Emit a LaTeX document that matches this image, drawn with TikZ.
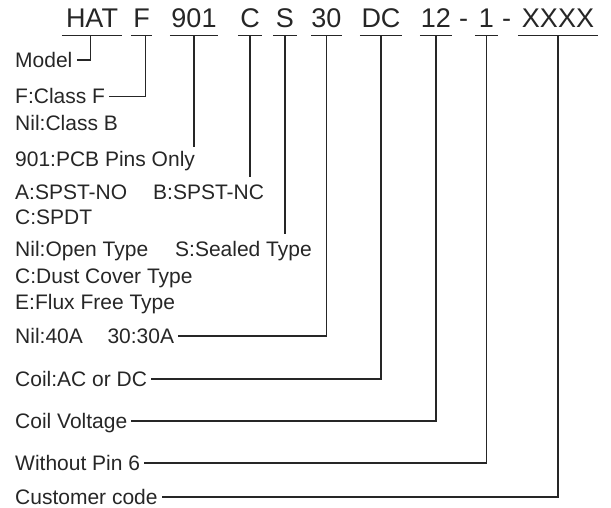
\documentclass[tikz,border=0pt]{standalone}
\usepackage{fontspec}
\setmainfont{Liberation Sans}
\usetikzlibrary{positioning,calc}

\begin{document}
\begin{tikzpicture}[
  x=1pt, y=-1pt,
  font=\fontsize{21}{25}\selectfont,
  code/.style={font=\fontsize{27}{32}\selectfont, text=black!85, anchor=base,
    inner xsep=0pt, inner ysep=8pt, text depth=0pt},
  lab/.style={text=black!85, anchor=base west, inner xsep=4pt, inner ysep=0pt,
    text height=14pt, text depth=0pt},
  lead/.style={draw=black!85, line width=1.2pt}
]
\useasboundingbox (0,0) rectangle (611,507);

% part number
\node[code, minimum width=60pt] (hat) at (92,27) {HAT};
\node[code, minimum width=21pt] (cls) at (141.5,27) {F};
\node[code, minimum width=48pt] (pins) at (194,27) {901};
\node[code, minimum width=24pt] (cont) at (250,27) {C};
\node[code, minimum width=24pt] (seal) at (285,27) {S};
\node[code, minimum width=27pt] (amp) at (326.5,27) {30};
\node[code, minimum width=42pt] (coil) at (381,27) {DC};
\node[code, minimum width=32pt] (volt) at (436,27) {12};
\node[code] (dasha) at (463.5,27) {-};
\node[code, minimum width=23pt] (pin6) at (486.5,27) {1};
\node[code] (dashb) at (506.5,27) {-};
\node[code, minimum width=80pt] (cust) at (558,27) {XXXX};

% underlines
\foreach \n in {hat,cls,pins,cont,seal,amp,coil,volt,pin6,cust}
  \draw[lead] (\n.south west) -- (\n.south east);

% meanings
\node[lab] (model) at (11,67) {Model};
\node[lab] (clsf) at (11,103.5) {F:Class F};
\node[lab] (clsb) at (11,130.5) {Nil:Class B};
\node[lab] (pcb) at (11,166) {901:PCB Pins Only};
\node[lab] (spno) at (11,199) {A:SPST-NO};
\node[lab] (spnc) at (149,199) {B:SPST-NC};
\node[lab] (spdt) at (11,224.5) {C:SPDT};
\node[lab] (open) at (11,256.5) {Nil:Open Type};
\node[lab] (sealed) at (171,256.5) {S:Sealed Type};
\node[lab] (dust) at (11,283) {C:Dust Cover Type};
\node[lab] (flux) at (11,309.5) {E:Flux Free Type};
\node[lab] (a40) at (11,343) {Nil:40A};
\node[lab] (a30) at (103.3,343) {30:30A};
\node[lab] (acdc) at (11,386) {Coil:AC or DC};
\node[lab] (coilv) at (11,428) {Coil Voltage};
\node[lab] (nopin) at (11,470) {Without Pin 6};
\node[lab] (custc) at (11,504) {Customer code};

% leaders
\draw[lead] ([xshift=-1.3pt]hat.south) |- (model.east);
\draw[lead] ([xshift=4.2pt]cls.south) |- (clsf.east);
\draw[lead] (pins.south) -- ([yshift=5pt]pins.south |- pcb.north);
\draw[lead] (cont.south) -- ([yshift=7.5pt]cont.south |- spnc.north);
\draw[lead] (seal.south) -- ([yshift=8pt]seal.south |- sealed.north);
\draw[lead] (amp.south) |- (a30.east);
\draw[lead] (coil.south) |- (acdc.east);
\draw[lead] (volt.south) |- (coilv.east);
\draw[lead] (pin6.south) |- (nopin.east);
\draw[lead] (cust.south) |- (custc.east);
\end{tikzpicture}
\end{document}
